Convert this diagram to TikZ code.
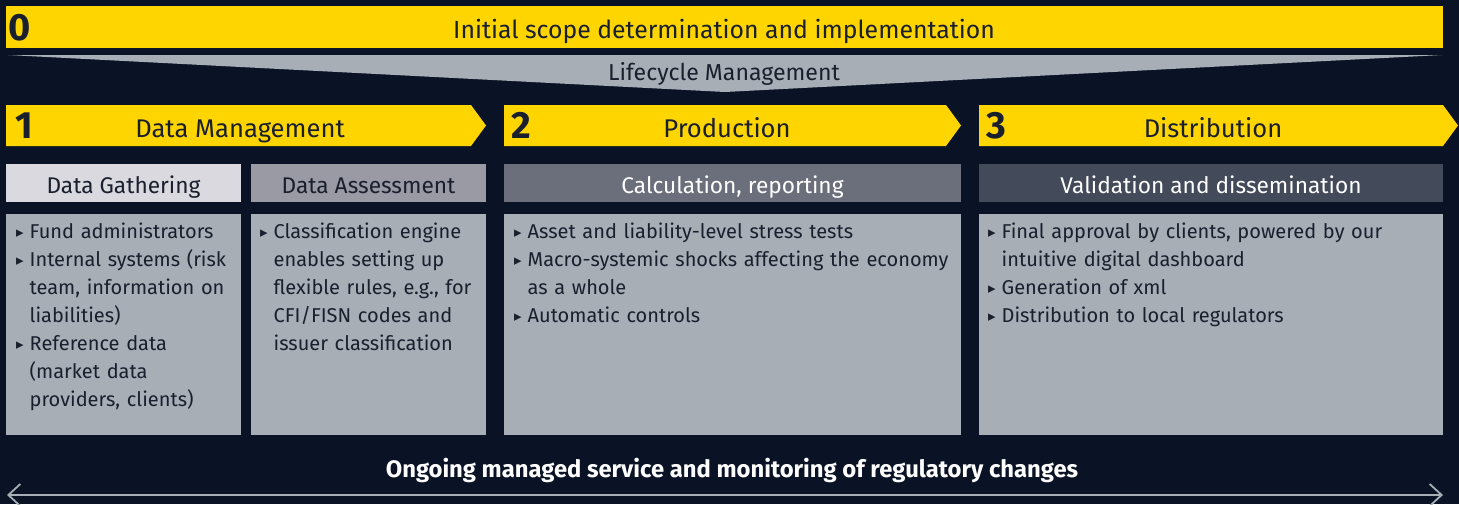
\documentclass[tikz,border=0pt]{standalone}
\usepackage{fontspec}
\setmainfont{Fira Sans}
\newfontfamily\bulfont{DejaVu Sans}
\usetikzlibrary{arrows.meta}
\definecolor{eynavy}{HTML}{0A1325}
\definecolor{eyyellow}{HTML}{FFD500}
\definecolor{eygrey}{HTML}{A7AEB6}
\definecolor{eytext}{HTML}{1A1F2E}
\definecolor{subone}{HTML}{D9D9DF}
\definecolor{subtwo}{HTML}{9A9AA4}
\definecolor{subthree}{HTML}{6B6E7B}
\definecolor{subfour}{HTML}{434A59}
\newcommand{\bitem}[1]{\par\noindent\hangindent=13.5pt\hangafter=1\makebox[13.5pt][l]{\raisebox{0.5pt}{\bulfont\fontsize{15}{15}\selectfont ▸}}#1\par}
\newcommand{\chevron}[2]{\fill[eyyellow] (#1,105) -- (#2,105) -- ({#2+15},125.5) -- (#2,146) -- (#1,146) -- cycle;}

\begin{document}
\begin{tikzpicture}[x=1pt,y=-1pt,
	headtext/.style={text=eytext,font=\fontsize{25.6}{30}\selectfont,inner sep=0,anchor=base},
	numtext/.style={text=eytext,font=\fontsize{38}{40}\selectfont\bfseries,inner sep=0,anchor=base west},
	subtext/.style={font=\fontsize{22.7}{27}\selectfont,inner sep=0,anchor=base},
	bodytext/.style={text=eytext,font=\fontsize{20}{28}\selectfont,inner sep=0,anchor=north west,align=left,text width=#1}]
				\useasboundingbox (0,0) rectangle (1459,504);
				\fill[eynavy] (0,0) rectangle (1459,504);
				
				\fill[eyyellow] (6,6) rectangle (1443,48);
				\node[numtext] (scopenum) at (8,40) {0};
				\node[headtext,font=\fontsize{24.8}{30}\selectfont] (scope) at (724,38) {Initial scope determination and implementation};
				
				\fill[eygrey] (8,55) -- (1442,55) -- (725,92) -- cycle;
				\node[headtext,font=\fontsize{23.1}{28}\selectfont] (lifecycle) at (724,80) {Lifecycle Management};
				
				\chevron{6}{471}
				\chevron{504}{946}
				\chevron{979}{1443}
				\node[numtext] (datanum) at (15,138) {1};
				\node[headtext] (datamgmt) at (240,137) {Data Management};
				\node[numtext] (prodnum) at (511,138) {2};
				\node[headtext] (production) at (727,137) {Production};
				\node[numtext] (distnum) at (986,138) {3};
				\node[headtext] (distribution) at (1213,137) {Distribution};
				
				\fill[subone] (6,164) rectangle (241,202);
				\fill[subtwo] (251,164) rectangle (486,202);
				\fill[subthree] (504,164) rectangle (961,202);
				\fill[subfour] (979,164) rectangle (1443,202);
				\node[subtext,text=eytext] (gathering) at (123.5,193) {Data Gathering};
				\node[subtext,text=eytext] (assessment) at (368.5,193) {Data Assessment};
				\node[subtext,text=white] (calculation) at (732.5,193) {Calculation, reporting};
				\node[subtext,text=white] (validation) at (1211,193) {Validation and dissemination};
				
				\fill[eygrey] (6,214) rectangle (241,435);
				\fill[eygrey] (251,214) rectangle (486,435);
				\fill[eygrey] (504,214) rectangle (961,435);
				\fill[eygrey] (979,214) rectangle (1443,435);
				\node[bodytext=220pt] (gathertext) at (16,210) {%
					\bitem{Fund administrators}
					\bitem{Internal systems (risk\newline team, information on\newline liabilities)}
					\bitem{Reference data\newline (market data\newline providers, clients)}};
				\node[bodytext=220pt] (assesstext) at (260,210) {%
					\bitem{Classification engine\newline enables setting up\newline flexible rules, e.g., for\newline CFI/FISN codes and\newline issuer classification}};
				\node[bodytext=440pt] (calctext) at (514,210) {%
					\bitem{Asset and liability-level stress tests}
					\bitem{Macro-systemic shocks affecting the economy\newline as a whole}
					\bitem{Automatic controls}};
				\node[bodytext=450pt] (validtext) at (988,210) {%
					\bitem{Final approval by clients, powered by our\newline intuitive digital dashboard}
					\bitem{Generation of xml}
					\bitem{Distribution to local regulators}};
				
				\node[text=white,font=\fontsize{23.8}{28}\selectfont\bfseries,inner sep=0,anchor=base] (ongoing) at (732,477) {Ongoing managed service and monitoring of regulatory changes};
				\coordinate (arrowleft) at (7,495);
				\coordinate (arrowright) at (1443,495);
				\draw[eygrey,line width=1.8pt,{Straight Barb[length=12pt,width=22pt]}-{Straight Barb[length=12pt,width=22pt]}] (arrowleft) -- (arrowright);
\end{tikzpicture}
\end{document}
